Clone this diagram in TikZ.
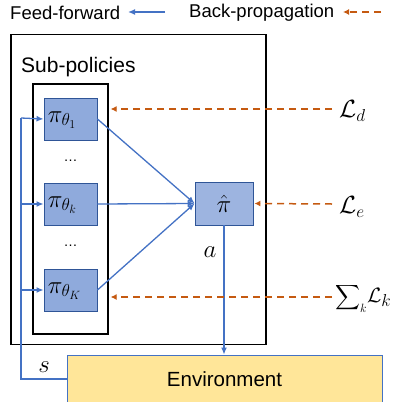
\documentclass[tikz,border=0pt]{standalone}
\usepackage{amsmath}
\usepackage{fontspec}
\setmainfont{Liberation Sans}
\DeclareMathSizes{24}{24}{17}{13}
\DeclareMathSizes{22}{22}{16}{12}
\DeclareMathSizes{18}{18}{13}{10}
\usetikzlibrary{arrows.meta}
\definecolor{ffblue}{HTML}{4472C4}
\definecolor{bporange}{HTML}{C55A11}
\definecolor{polfill}{HTML}{8FAADC}
\definecolor{pihatfill}{HTML}{9DB4E0}
\definecolor{boxedge}{HTML}{2F5597}
\definecolor{envfill}{HTML}{FFE699}
\tikzset{
  polbox/.style={draw=boxedge, fill=polfill, line width=0.9pt, minimum width=53pt, minimum height=42pt, inner sep=0pt},
  frame/.style={draw=black, line width=1.4pt, inner sep=0pt},
  ff/.style={draw=ffblue, line width=1.3pt},
  ffarr/.style={ff, -{Latex[length=7pt,width=6pt]}},
  bparr/.style={draw=bporange, line width=1.5pt, dash pattern=on 7pt off 5pt, -{Latex[length=6pt,width=6pt]}},
  lbl/.style={font=\fontsize{18.5}{21}\selectfont, inner sep=0pt},
  mlbl/.style={font=\fontsize{24}{26}\selectfont, inner sep=0pt},
}
\begin{document}
\begin{tikzpicture}[x=1pt,y=-1pt]
\useasboundingbox (0,0) rectangle (394,402);
\clip (0,0) rectangle (394,402);
% legend
\node[lbl, anchor=west] (fftxt) at (10,13) {Feed-forward};
\coordinate (ffa) at (165,12);
\coordinate (ffb) at (128,12);
\draw[ffarr] (ffa) -- (ffb);
\node[lbl, anchor=west] (bptxt) at (189,13) {Back-propagation};
\coordinate (bpa) at (381,12);
\coordinate (bpb) at (343,12);
\draw[bparr] (bpa) -- (bpb);
% frames
\node[frame, minimum width=255pt, minimum height=310pt] (outer) at (138.5,189.5) {};
\node[lbl, font=\fontsize{21}{23}\selectfont, anchor=west] (subtxt) at (21,67) {Sub-policies};
\node[frame, line width=1.2pt, minimum width=75pt, minimum height=250pt] (inner) at (70.5,209) {};
% policy boxes
\node[polbox] (p1) at (70.5,119) {};
\node[mlbl, anchor=west] at ([xshift=4pt,yshift=-1pt]p1.west) {$\pi_{\theta_1}$};
\node[polbox] (pk) at (70.5,204) {};
\node[mlbl, anchor=west] at ([xshift=4pt,yshift=-1pt]pk.west) {$\pi_{\theta_k}$};
\node[polbox] (pK) at (70.5,290) {};
\node[mlbl, anchor=west] at ([xshift=4pt,yshift=-1pt]pK.west) {$\pi_{\theta_K}$};
\node[lbl, font=\fontsize{14}{16}\selectfont] (dots1) at (70.5,161) {…};
\node[lbl, font=\fontsize{14}{16}\selectfont] (dots2) at (70.5,246) {…};
% pi hat
\node[polbox, fill=pihatfill, minimum width=58pt, minimum height=43pt, font=\fontsize{24}{26}\selectfont] (ph) at (224,203.5) {$\hat{\pi}$};
% environment
\node[draw=ffblue, line width=0.9pt, fill=envfill, minimum width=315pt, minimum height=48pt, inner sep=0pt, font=\fontsize{20.5}{23}\selectfont] (env) at (224.5,379) {\raisebox{-2pt}{Environment}};
% feed forward
\draw[ffarr] (p1.east) -- (ph.west);
\draw[ffarr] (pk.east) -- (ph.west);
\draw[ffarr] (pK.east) -- (ph.west);
\draw[ffarr] (ph.south) -- (ph.south |- env.north);
\node[mlbl] (alab) at (210,252) {$a$};
% feedback
\coordinate (fb) at (21,379);
\coordinate (c1) at (21,118);
\coordinate (ck) at (21,204);
\coordinate (cK) at (21,290);
\draw[ff] (env.west) -- (fb) -- (c1);
\draw[ffarr] (c1) -- (p1.west);
\draw[ffarr] (ck) -- (pk.west);
\draw[ffarr] (cK) -- (pK.west);
\node[mlbl] (slab) at (44,367) {$s$};
% back propagation
\coordinate (ld) at (332,109);
\coordinate (le) at (332,204);
\coordinate (lk) at (332,297);
\draw[bparr] (ld) -- ([xshift=2pt]inner.east |- ld);
\draw[bparr] (le) -- ([xshift=1pt]ph.east);
\draw[bparr] (lk) -- ([xshift=2pt]inner.east |- lk);
\node[mlbl, anchor=west] (ldlab) at (339,111) {$\mathcal{L}_d$};
\node[mlbl, anchor=west] (lelab) at (339,207) {$\mathcal{L}_e$};
\node[inner sep=0pt, anchor=west] (lklab) at (335,298) {{\fontsize{18}{20}\selectfont$\displaystyle\sum\nolimits_k$}{\fontsize{22}{24}\selectfont$\mathcal{L}_k$}};
\end{tikzpicture}
\end{document}
